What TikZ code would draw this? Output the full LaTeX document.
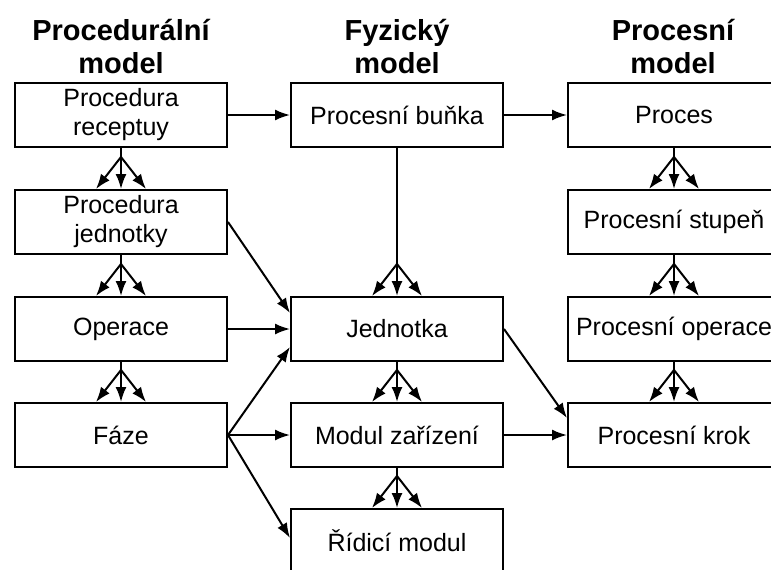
\documentclass[tikz,border=0pt]{standalone}
\usepackage{fontspec}
\setmainfont{Liberation Sans}
\usetikzlibrary{arrows.meta,positioning}
\newcommand{\boxw}{212pt}
\newcommand{\boxh}{64pt}
\tikzset{
    boxsty/.style={draw,line width=2pt,rectangle,minimum width=\boxw,minimum height=\boxh,inner sep=0pt,align=center,anchor=center,font=\fontsize{25}{29}\selectfont},
    headsty/.style={align=center,inner sep=0pt,anchor=center,font=\bfseries\fontsize{29}{33}\selectfont},
    linksty/.style={line width=2pt,->},
}
% one line down to a junction, three arrows into the next box
\newcommand{\fork}[2]{%
  \coordinate (#1j) at ([yshift=32pt]#2.north);
  \draw[line width=2pt] (#1.south) -- (#1j);
  \draw[linksty] (#1j) -- ([xshift=-25pt]#2.north);
  \draw[linksty] (#1j) -- (#2.north);
  \draw[linksty] (#1j) -- ([xshift=25pt]#2.north);
}

\begin{document}
\begin{tikzpicture}[x=1pt,y=-1pt,>={Latex[length=15pt,width=11pt]}]
  \useasboundingbox (0,0) rectangle (771,570);
  \clip (0,0) rectangle (771,570);

  % headings
  \node[headsty] (hproc) at (121,47) {Procedurální\\model};
  \node[headsty] (hfyz)  at (397,47) {Fyzický\\model};
  \node[headsty] (hpcs)  at (673,47) {Procesní\\model};

  % procedural model
  \node[boxsty] (prec) at (121,115) {Procedura\\receptuy};
  \node[boxsty] (pjed) at (121,222) {Procedura\\jednotky};
  \node[boxsty] (oper) at (121,329) {Operace};
  \node[boxsty] (faze) at (121,435) {Fáze};

  % physical model
  \node[boxsty] (bunka) at (397,115) {Procesní buňka};
  \node[boxsty] (jedn)  at (397,329) {Jednotka};
  \node[boxsty] (modz)  at (397,435) {Modul zařízení};
  \node[boxsty] (ridm)  at (397,541) {Řídicí modul};

  % process model
  \node[boxsty] (proc)  at (674,115) {Proces};
  \node[boxsty] (pstup) at (674,222) {Procesní stupeň};
  \node[boxsty] (poper) at (674,329) {Procesní operace};
  \node[boxsty] (pkrok) at (674,435) {Procesní krok};

  \fork{prec}{pjed}
  \fork{pjed}{oper}
  \fork{oper}{faze}
  \fork{bunka}{jedn}
  \fork{jedn}{modz}
  \fork{modz}{ridm}
  \fork{proc}{pstup}
  \fork{pstup}{poper}
  \fork{poper}{pkrok}

  \draw[linksty] (prec.east) -- (bunka.west);
  \draw[linksty] (bunka.east) -- (proc.west);
  \draw[linksty] (pjed.east) -- ([yshift=16pt]jedn.west);
  \draw[linksty] (oper.east) -- (jedn.west);
  \draw[linksty] (faze.east) -- ([yshift=-18pt]jedn.west);
  \draw[linksty] (faze.east) -- (modz.west);
  \draw[linksty] (faze.east) -- ([yshift=3pt]ridm.west);
  \draw[linksty] (jedn.east) -- ([yshift=17pt]pkrok.west);
  \draw[linksty] (modz.east) -- (pkrok.west);
\end{tikzpicture}
\end{document}
